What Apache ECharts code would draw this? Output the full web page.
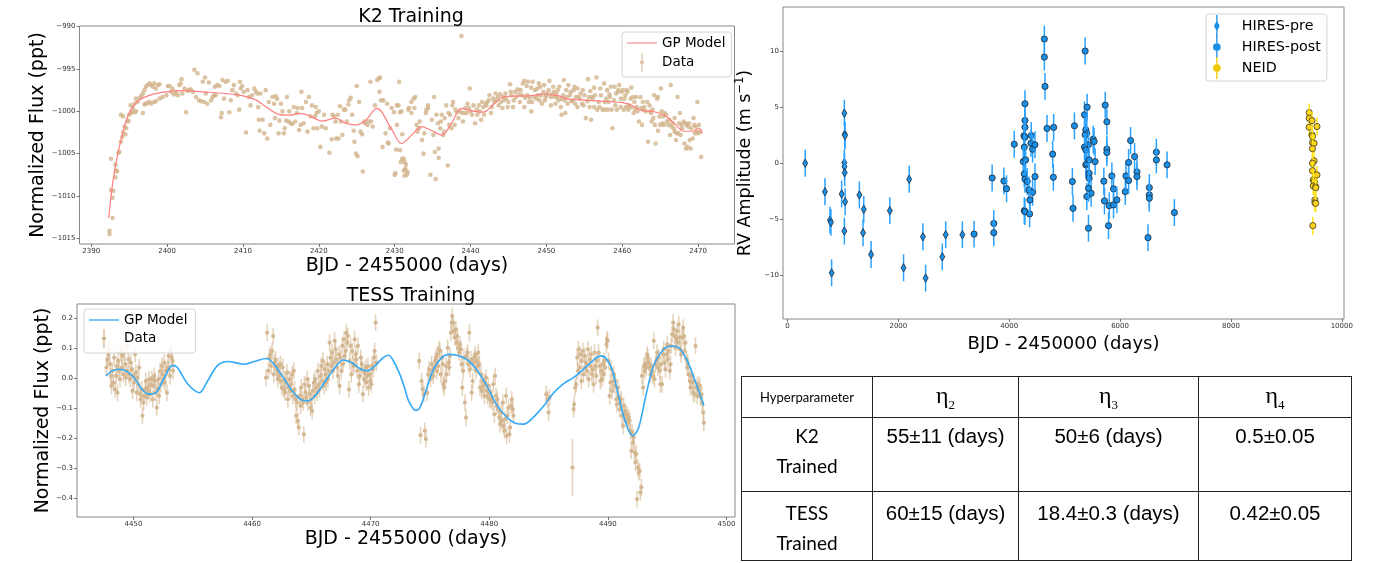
<!DOCTYPE html>
<html>
<head>
<meta charset="utf-8">
<title>GP training on K2 / TESS and RV data</title>
<script src="https://cdn.jsdelivr.net/npm/echarts@6/dist/echarts.min.js"></script>
<style>
  html, body { margin: 0; padding: 0; background: #fff; }
  #main { width: 1375px; height: 563px; }
  /* hyperparameter table, sits under the RV panel */
  #hyper { position: absolute; left: 741px; top: 376px; border-collapse: collapse; table-layout: fixed; }
  #hyper td { border: 1px solid #222; text-align: center; padding: 0; color: #000; }
  #hyper .head td { vertical-align: middle; }
  #hyper .name { font-family: Lato, 'Open Sans', sans-serif; font-size: 13px; }
  #hyper .eta { font-family: 'Liberation Serif', 'DejaVu Serif', serif; font-size: 24px; }
  #hyper .eta sub { font-size: 13px; }
  #hyper .row td { vertical-align: top; line-height: 30px; }
  #hyper .lab { font-family: Lato, 'Open Sans', sans-serif; font-size: 19px; }
  #hyper .val { font-family: 'Liberation Sans', Arial, sans-serif; font-size: 20.5px; }
</style>
</head>
<body>
<div id="main"></div>
<table id="hyper">
  <colgroup><col style="width:131px"><col style="width:146px"><col style="width:180px"><col style="width:153px"></colgroup>
  <tbody id="hyperBody"></tbody>
</table>
<script>
// ---- K2 light curve ----
const k2XTicks = [2390, 2400, 2410, 2420, 2430, 2440, 2450, 2460, 2470];
const k2YTicks = [-1015, -1010, -1005, -1000, -995, -990];
const k2Model = [
  [2392.3,-1012.6],[2392.85,-1008.3],[2393.5,-1005.0],[2394.2,-1002.4],[2394.8,-1000.6],[2395.5,-999.45],
  [2396.35,-998.65],[2398.1,-998.0],[2399.85,-997.7],[2402.05,-997.55],[2404.7,-997.7],[2407.75,-997.9],
  [2409.9,-998.15],[2411.7,-998.65],[2413,-999.45],[2414.75,-1000.35],[2416.05,-1000.45],[2417.4,-1000.25],
  [2418.7,-1000.5],[2420.45,-1001.15],[2422.2,-1000.8],[2423.5,-1001.4],[2424.8,-1001.6],[2426.1,-1001.15],
  [2427.65,-999.65],[2429.65,-1002.2],[2430.9,-1003.8],[2432.25,-1002.8],[2433.55,-1001.8],[2434.9,-1002.3],
  [2436.2,-1002.8],[2437.5,-1001.4],[2438.8,-999.65],[2440.1,-999.95],[2441.65,-1000.1],[2443.2,-999.05],
  [2444.5,-998.25],[2446.25,-998.2],[2448,-998.15],[2449.75,-997.95],[2451.5,-998.15],[2452.85,-998.55],
  [2454.6,-998.65],[2457.2,-998.8],[2459.85,-998.95],[2461.15,-999.25],[2462.45,-999.85],[2464.2,-1000.05],
  [2465.55,-1000.45],[2466.85,-1001.4],[2468.15,-1002.35],[2469.25,-1002.35],[2470.15,-1002.0],[2470.5,-1002.6]
];
const k2Data = [
  [2392.4,-1014.1],[2392.4,-1014.5],[2392.8,-1012.6],[2392.6,-1009.3],[2392.9,-1009.4],[2392.8,-1010.2],[2392.6,-1005.6],
  [2393.2,-1006.3],[2393.3,-1007.0],[2393.4,-1007.1],[2393.2,-1007.8],[2393.6,-1004.9],[2393.7,-1004.8],[2393.9,-1003.6],
  [2394.1,-1003.0],[2394.2,-1002.5],[2393.9,-1000.4],[2394.2,-1000.6],[2394.5,-1002.7],[2394.6,-1002.0],[2394.4,-1001.8],
  [2394.8,-1001.2],[2394.9,-1001.1],[2395.0,-1000.4],[2395.3,-1000.0],[2395.2,-999.3],[2395.5,-999.6],[2395.7,-999.1],
  [2395.3,-1000.2],[2395.9,-998.5],[2396.1,-998.9],[2396.4,-998.4],[2396.6,-998.2],[2396.8,-997.9],[2397.0,-997.5],
  [2397.2,-997.1],[2397.4,-996.9],[2397.7,-996.7],[2397.9,-996.9],[2398.1,-997.1],[2398.3,-996.7],[2398.5,-997.3],
  [2398.8,-996.9],[2399.0,-996.8],[2395.7,-1000.1],[2395.9,-1000.0],[2396.8,-1000.2],[2397.0,-999.2],[2397.2,-999.1],
  [2397.4,-999.0],[2397.7,-998.9],[2397.9,-999.1],[2398.3,-998.9],[2398.5,-998.8],[2399.0,-998.5],[2399.4,-998.3],
  [2399.9,-998.1],[2400.1,-997.0],[2400.3,-997.0],[2400.5,-997.7],[2400.7,-997.3],[2400.9,-998.0],[2401.2,-997.7],
  [2401.4,-998.1],[2401.6,-996.9],[2401.8,-996.7],[2401.9,-996.2],[2402.0,-997.9],[2402.3,-997.3],[2402.5,-1000.1],
  [2402.7,-997.6],[2402.9,-997.5],[2403.1,-997.4],[2403.4,-997.7],[2403.6,-995.1],[2403.8,-998.3],[2404.0,-995.5],
  [2404.2,-998.7],[2404.5,-998.8],[2404.7,-996.5],[2404.9,-998.9],[2405.0,-996.0],[2405.1,-997.9],[2405.3,-999.1],
  [2405.5,-996.6],[2405.8,-998.7],[2406.0,-998.3],[2406.2,-998.1],[2406.3,-997.1],[2406.4,-998.1],[2406.6,-996.9],
  [2406.9,-997.0],[2407.1,-1000.7],[2407.2,-1000.2],[2407.3,-996.3],[2407.5,-998.5],[2407.7,-996.5],[2408.0,-996.4],
  [2408.2,-1000.1],[2408.4,-998.7],[2408.6,-997.5],[2408.8,-996.9],[2409.1,-997.9],[2409.3,-998.1],[2409.5,-999.8],
  [2409.6,-996.5],[2409.7,-997.3],[2409.9,-997.0],[2410.1,-997.7],[2410.4,-1002.5],[2410.6,-997.5],[2410.8,-998.3],
  [2411.0,-999.3],[2411.2,-998.1],[2411.5,-997.3],[2411.7,-997.7],[2411.9,-997.9],[2412.0,-999.5],[2412.1,-1001.0],
  [2412.2,-1002.3],[2412.3,-997.9],[2412.6,-1001.0],[2412.8,-1002.6],[2413.0,-997.5],[2413.2,-1003.2],[2413.4,-998.9],
  [2413.6,-1001.6],[2413.9,-998.3],[2414.1,-999.1],[2414.2,-1000.8],[2414.3,-998.2],[2414.5,-998.5],[2414.7,-1002.6],
  [2414.8,-1001.1],[2415.0,-999.1],[2415.2,-1000.0],[2415.4,-1002.6],[2415.5,-1002.0],[2415.7,-1001.1],[2415.8,-998.3],
  [2416.0,-1001.2],[2416.1,-1000.0],[2416.3,-1001.4],[2416.5,-1001.5],[2416.7,-999.5],[2416.9,-1001.2],[2417.1,-1000.2],
  [2417.2,-999.6],[2417.4,-1002.2],[2417.6,-1001.6],[2417.7,-997.7],[2417.8,-999.6],[2418.0,-1001.4],[2418.3,-998.9],
  [2418.5,-1002.4],[2418.7,-998.3],[2418.9,-1000.6],[2419.1,-999.3],[2419.3,-1002.0],[2419.5,-1000.6],[2419.6,-999.5],
  [2419.7,-1000.2],[2419.8,-1002.0],[2420.0,-1000.0],[2420.2,-1004.2],[2420.4,-1001.8],[2420.7,-1000.4],[2420.9,-1002.0],
  [2421.4,-1004.9],[2421.7,-1003.3],[2421.8,-1000.4],[2422.0,-1000.6],[2422.2,-1001.2],[2422.3,-1003.2],[2422.5,-1000.4],
  [2422.6,-1003.2],[2422.8,-999.4],[2422.9,-1001.2],[2423.1,-1002.8],[2423.3,-999.8],[2423.5,-999.8],[2423.7,-1001.2],
  [2423.9,-999.2],[2424.0,-998.7],[2424.2,-998.4],[2424.4,-1000.4],[2424.6,-1002.3],[2424.7,-1003.6],[2424.9,-1005.0],
  [2425.0,-997.0],[2425.1,-1005.3],[2425.3,-998.9],[2425.5,-1002.4],[2425.7,-1002.7],[2425.8,-1007.1],[2426.0,-1001.2],
  [2426.1,-1001.4],[2426.4,-1001.6],[2426.6,-1001.2],[2426.8,-996.5],[2426.9,-1001.2],[2427.1,-1001.8],[2427.4,-999.3],
  [2427.7,-996.3],[2427.9,-996.1],[2428.1,-996.0],[2428.0,-997.7],[2428.2,-998.7],[2428.4,-1004.2],[2428.5,-998.7],
  [2428.8,-1002.6],[2429.0,-999.1],[2429.1,-1003.7],[2429.2,-1003.8],[2429.4,-1002.0],[2429.6,-999.6],[2429.9,-1000.1],
  [2430.0,-1007.5],[2430.1,-1007.3],[2430.2,-1004.5],[2430.3,-1001.6],[2430.5,-999.3],[2430.6,-996.5],[2430.7,-1000.1],
  [2430.9,-1000.0],[2431.0,-1002.7],[2431.2,-1005.6],[2431.3,-1006.0],[2431.4,-1006.9],
  [2430.3,-999.3],[2430.7,-1004.6],[2431.0,-1005.6],[2430.8,-1006.0],[2431.2,-1007.0],[2431.4,-1006.8],[2431.6,-1007.5],
  [2431.3,-1007.6],[2431.7,-1007.2],[2431.5,-1006.3],[2431.8,-999.8],[2431.9,-999.6],[2432.2,-1000.2],[2432.2,-998.9],
  [2432.5,-998.5],[2432.7,-998.3],[2432.6,-999.6],[2432.9,-1001.6],[2433.0,-1002.4],[2433.2,-1002.0],[2433.3,-1001.2],
  [2433.6,-1003.4],[2433.8,-1005.0],[2433.9,-1002.6],[2434.1,-1000.2],[2434.2,-999.8],[2434.4,-999.3],[2434.4,-999.6],
  [2434.7,-1007.5],[2434.9,-1001.0],[2435.1,-1002.8],[2435.2,-998.3],[2435.3,-1004.8],[2435.4,-1008.0],[2435.5,-1000.4],
  [2435.7,-1001.4],[2435.8,-1004.4],[2435.8,-1005.5],[2436.0,-1002.0],[2436.1,-1001.2],[2436.2,-1000.4],[2436.4,-1002.8],
  [2436.5,-1002.4],[2436.6,-1000.8],[2436.8,-999.3],[2437.0,-1006.4],[2437.1,-1000.2],[2437.2,-1001.6],[2437.3,-1000.4],
  [2437.5,-1002.0],[2437.6,-999.3],[2437.7,-998.9],[2437.9,-1001.6],[2438.0,-999.8],[2438.2,-1000.1],[2438.4,-1000.8],
  [2438.6,-1000.0],[2438.8,-991.1],[2438.9,-1000.2],[2439.0,-1001.2],[2439.2,-1000.2],[2439.3,-999.6],[2439.5,-1000.2],
  [2439.6,-999.1],[2439.8,-999.6],[2439.9,-997.3],[2440.0,-1000.0],[2440.2,-1000.4],[2440.4,-999.3],[2440.6,-1001.4],
  [2440.8,-999.8],[2440.9,-1000.4],[2441.1,-999.3],[2441.2,-1000.0],[2441.4,-1001.0],[2441.5,-998.9],[2441.7,-999.5],
  [2441.8,-1000.4],[2442.0,-999.1],[2442.1,-999.3],[2442.2,-998.9],[2442.4,-998.7],[2442.5,-998.1],[2442.7,-1000.2],
  [2442.8,-999.5],[2443.0,-998.5],[2443.1,-998.9],[2443.3,-997.9],[2443.4,-998.7],[2443.6,-998.3],[2443.7,-999.3],
  [2443.9,-998.0],[2444.0,-998.9],[2444.2,-999.6],[2444.3,-998.3],[2444.4,-998.7],[2444.6,-997.9],[2444.7,-998.5],
  [2444.9,-999.5],[2445.0,-998.9],[2445.2,-996.8],[2445.3,-997.7],[2445.4,-998.1],[2445.6,-999.5],[2445.7,-998.7],
  [2445.9,-997.7],[2446.0,-998.3],[2446.2,-997.4],[2446.4,-998.0],[2446.5,-998.9],[2446.6,-997.5],[2446.8,-998.1],
  [2446.9,-996.7],[2447.1,-999.5],[2447.1,-996.4],[2447.2,-998.4],[2447.4,-997.0],[2447.5,-998.1],[2447.6,-996.5],
  [2447.7,-998.9],[2447.8,-998.4],[2448.0,-997.2],[2448.0,-1000.0],[2448.1,-998.9],[2448.2,-996.5],[2448.4,-998.3],
  [2448.5,-997.5],[2448.7,-998.5],[2448.8,-997.3],[2448.9,-998.1],[2449.0,-996.7],[2449.1,-998.7],[2449.2,-997.1],
  [2449.3,-998.1],[2449.4,-999.1],[2449.6,-997.7],[2449.7,-996.9],[2449.8,-998.7],[2449.9,-998.3],[2450.0,-998.1],
  [2450.1,-997.9],[2450.3,-997.5],[2450.4,-996.4],[2450.6,-998.3],[2450.6,-999.3],[2450.7,-998.0],[2450.9,-997.1],
  [2451.0,-997.7],[2451.1,-998.3],[2451.2,-999.1],[2451.3,-997.9],[2451.4,-998.3],[2451.5,-997.5],[2451.6,-998.7],
  [2451.7,-997.1],[2451.9,-999.5],[2452.0,-998.5],[2452.0,-1000.4],[2452.2,-998.1],[2452.3,-996.3],[2452.4,-998.7],
  [2452.5,-1000.2],[2452.6,-997.5],[2452.7,-998.3],[2452.8,-999.1],[2452.9,-996.9],[2453.1,-998.1],[2453.2,-997.7],
  [2453.3,-998.8],[2453.5,-998.7],[2453.6,-997.5],[2453.7,-997.1],[2453.8,-999.1],[2453.9,-998.3],[2454.1,-997.3],
  [2454.1,-999.5],[2454.2,-998.3],[2454.4,-998.5],[2454.5,-997.9],[2454.7,-999.1],[2454.8,-997.5],[2454.9,-999.3],
  [2455.0,-998.1],[2455.2,-1000.8],[2455.4,-998.8],[2455.5,-996.2],[2455.6,-998.3],[2455.7,-999.5],[2455.8,-997.6],
  [2455.9,-1001.0],[2456.0,-998.3],[2456.1,-998.5],[2456.3,-999.5],[2456.3,-997.2],[2456.4,-998.1],[2456.6,-996.0],
  [2456.7,-999.8],[2456.9,-998.9],[2457.0,-999.5],[2457.1,-997.3],[2457.2,-998.1],[2457.4,-999.8],[2457.6,-996.7],
  [2457.7,-998.9],[2457.7,-999.8],[2457.9,-998.5],[2458.0,-997.5],[2458.1,-999.8],[2458.2,-998.9],[2458.3,-998.0],
  [2458.4,-998.3],[2458.5,-997.1],[2458.6,-999.8],[2458.7,-1002.0],[2458.9,-998.7],[2459.0,-997.1],[2459.1,-999.3],
  [2459.2,-997.9],[2459.3,-999.8],[2459.4,-997.7],[2459.5,-997.5],[2459.6,-996.9],[2459.8,-999.5],[2459.8,-998.5],
  [2459.9,-997.7],[2460.1,-997.5],[2460.2,-999.8],[2460.3,-998.5],[2460.4,-998.1],[2460.5,-999.5],[2460.6,-997.5],
  [2460.7,-997.7],[2460.8,-999.8],[2460.9,-999.3],[2461.1,-998.5],[2461.2,-999.5],[2461.2,-997.2],[2461.4,-998.3],
  [2461.5,-1000.2],[2461.6,-998.9],[2461.7,-999.8],[2461.8,-998.3],[2461.9,-999.5],[2462.0,-1000.0],[2462.2,-1001.2],
  [2462.4,-998.3],[2462.5,-999.6],[2462.6,-1001.6],[2462.7,-998.9],[2462.8,-999.8],[2462.9,-999.5],[2463.1,-1000.0],
  [2463.3,-998.9],[2463.4,-1003.6],[2463.6,-999.3],[2463.7,-1000.0],[2463.8,-1000.2],[2463.9,-1001.2],[2464.0,-999.8],
  [2464.1,-1000.8],[2464.2,-998.1],[2464.3,-1001.6],[2464.4,-1003.8],[2464.6,-998.5],[2464.7,-1002.3],[2464.7,-998.3],
  [2464.9,-1000.6],[2465.0,-1001.6],[2465.1,-997.3],[2465.2,-1000.0],[2465.3,-1001.4],[2465.4,-1000.6],[2465.5,-1001.6],
  [2465.6,-1000.2],[2465.8,-1000.4],[2465.9,-1001.2],[2466.1,-1001.6],[2466.2,-1001.0],[2466.3,-1002.8],[2466.4,-996.9],
  [2466.5,-1001.8],[2466.6,-1001.4],[2466.8,-1002.0],[2466.9,-1002.4],[2466.9,-1000.8],[2467.1,-1003.4],[2467.2,-1002.6],
  [2467.3,-998.3],[2467.4,-1002.6],[2467.5,-1001.4],[2467.6,-1000.2],[2467.7,-1002.8],[2467.8,-1001.6],[2467.9,-1002.0],
  [2468.1,-1001.2],[2468.2,-1003.8],[2468.3,-1001.4],[2468.4,-1004.4],[2468.5,-1001.6],[2468.6,-1004.2],[2468.7,-1001.8],
  [2468.8,-1001.4],[2468.9,-1003.4],[2469.0,-1004.4],[2469.1,-1002.0],[2469.3,-1003.2],[2469.4,-1000.8],[2469.5,-1001.6],
  [2469.6,-1002.6],[2469.7,-1001.8],[2469.8,-1002.4],[2469.9,-998.9],[2470.0,-1002.6],[2470.1,-1001.6],[2470.3,-1002.4],
  [2470.4,-1005.4]
];

// ---- TESS light curve ----
const tessXTicks = [4450, 4460, 4470, 4480, 4490, 4500];
const tessYTicks = [-0.4, -0.3, -0.2, -0.1, 0, 0.1, 0.2];
const tessErr = 0.028;
const tessModel = [
  [4447.66,0.009],[4448.65,0.031],[4449.2,0.029],[4450.06,0.003],[4450.6,-0.03],[4451.3,-0.052],[4451.9,-0.047],
  [4452.6,0.003],[4453.3,0.044],[4453.7,0.037],[4454.6,-0.019],[4455.55,-0.047],[4456.25,-0.008],[4457.1,0.044],
  [4457.95,0.057],[4459.35,0.048],[4460.35,0.059],[4461.2,0.067],[4461.75,0.053],[4462.45,0.014],[4463.3,-0.036],
  [4464.15,-0.071],[4464.7,-0.074],[4465.3,-0.058],[4466.1,-0.013],[4467,0.037],[4467.7,0.062],[4468.4,0.053],
  [4469.2,0.031],[4469.7,0.026],[4470.35,0.042],[4471.05,0.07],[4471.5,0.078],[4472.0,0.053],[4472.46,0.014],
  [4472.9,-0.036],[4473.2,-0.074],[4473.8,-0.106],[4474.15,-0.097],[4474.7,-0.036],[4475.3,0.031],[4476.0,0.07],
  [4476.55,0.081],[4477.25,0.078],[4478.1,0.064],[4478.9,0.031],[4479.8,-0.024],[4480.6,-0.086],[4481.5,-0.13],
  [4482.2,-0.149],[4482.9,-0.152],[4483.7,-0.13],[4484.6,-0.091],[4485.4,-0.049],[4486.3,-0.016],[4487.1,0.003],
  [4487.8,0.026],[4488.65,0.057],[4489.4,0.076],[4489.8,0.07],[4490.35,0.031],[4490.9,-0.058],[4491.5,-0.147],
  [4492.1,-0.191],[4492.6,-0.163],[4493.2,-0.058],[4493.85,0.042],[4494.7,0.098],[4495.4,0.109],[4496.0,0.103],
  [4496.7,0.059],[4497.4,-0.013],[4498.1,-0.091]
];
const tessData = [
  [4447.72,0.037],[4447.80,0.064],[4447.89,0.081],[4447.94,0.098],[4448.03,0.048],[4448.08,0.009],[4448.14,-0.024],
  [4448.23,0.026],[4448.31,-0.013],[4448.37,0.070],[4448.45,-0.036],[4448.54,0.009],[4448.59,0.042],[4448.65,-0.047],
  [4448.73,0.059],[4448.79,0.026],[4448.87,-0.002],[4448.93,0.087],[4449.01,0.037],[4449.07,0.076],[4449.16,0.014],
  [4449.21,0.087],[4449.30,0.048],[4449.35,0.003],[4449.44,0.026],[4449.49,0.109],[4449.58,0.064],[4449.63,0.014],
  [4449.72,-0.002],[4449.77,0.053],[4449.86,0.031],[4449.92,-0.041],[4450.00,0.009],[4450.06,-0.013],[4450.14,0.081],
  [4450.20,0.020],[4450.28,-0.047],[4450.34,0.003],[4450.42,-0.019],[4450.48,0.037],[4450.56,-0.052],[4450.62,-0.069],
  [4450.70,-0.036],[4450.76,-0.124],[4450.85,-0.080],[4450.90,-0.058],[4450.99,-0.036],[4451.04,-0.008],[4451.13,-0.063],
  [4451.18,-0.030],[4451.27,-0.041],[4451.32,-0.002],[4451.41,-0.052],[4451.46,-0.019],[4451.55,-0.002],[4451.63,-0.069],
  [4451.69,-0.024],[4451.75,0.009],[4451.83,-0.008],[4451.89,-0.047],[4451.97,-0.097],[4452.03,-0.036],[4452.11,-0.002],
  [4452.17,-0.058],[4452.25,0.026],[4452.31,-0.019],[4452.39,0.042],[4452.45,0.014],[4452.54,-0.002],[4452.59,0.053],
  [4452.65,-0.013],[4452.73,0.026],[4452.82,-0.047],[4452.87,0.037],[4452.96,0.076],[4453.01,0.031],[4453.10,0.009],
  [4453.15,0.092],[4453.21,0.070],[4453.30,0.059],[4453.35,0.026],
  [4461.18,0.003],[4461.27,0.153],[4461.38,0.026],[4461.46,0.070],[4461.55,0.081],[4461.61,0.042],[4461.69,0.092],
  [4461.78,0.142],[4461.83,0.014],[4461.89,0.053],[4461.97,0.064],[4462.06,0.037],[4462.11,0.026],[4462.17,-0.002],
  [4462.23,0.042],[4462.31,0.009],[4462.40,0.048],[4462.45,-0.008],[4462.51,-0.030],[4462.59,0.037],[4462.68,-0.036],
  [4462.73,-0.002],[4462.79,-0.047],[4462.87,-0.013],[4462.96,0.020],[4463.02,-0.069],[4463.07,-0.030],[4463.16,-0.002],
  [4463.24,-0.041],[4463.30,-0.019],[4463.38,0.014],[4463.44,-0.058],[4463.52,0.026],[4463.58,-0.036],[4463.66,-0.069],
  [4463.72,-0.124],[4463.80,-0.080],[4463.86,-0.141],[4463.94,-0.163],[4464.03,-0.058],[4464.09,-0.091],[4464.14,-0.030],
  [4464.23,-0.069],[4464.31,-0.080],[4464.37,-0.186],[4464.42,-0.019],[4464.51,-0.047],[4464.56,-0.063],[4464.65,-0.002],
  [4464.70,-0.080],[4464.79,-0.024],[4464.87,-0.052],[4464.93,-0.097],[4464.99,-0.069],[4465.07,-0.108],[4465.13,-0.041],
  [4465.21,-0.013],[4465.27,-0.058],[4465.32,-0.002],[4465.41,-0.030],[4465.49,-0.047],[4465.55,0.026],[4465.63,-0.019],
  [4465.69,-0.036],[4465.78,0.009],[4465.83,0.042],[4465.92,-0.008],[4465.97,0.059],[4466.06,-0.024],[4466.11,0.031],
  [4466.20,0.014],[4466.25,-0.013],[4466.34,0.048],[4466.40,-0.002],[4466.48,0.026],[4466.54,0.120],[4466.62,0.070],
  [4466.68,0.042],[4466.76,0.087],[4466.82,0.026],[4466.90,0.053],[4466.96,0.126],[4467.04,0.098],[4467.10,0.064],
  [4467.18,0.037],[4467.24,0.009],[4467.32,0.081],[4467.38,-0.024],[4467.46,0.070],[4467.52,0.026],[4467.61,0.109],
  [4467.66,0.048],[4467.75,0.131],[4467.80,0.076],[4467.89,0.092],[4467.94,0.153],[4468.03,0.120],[4468.08,0.142],
  [4468.17,-0.036],[4468.23,0.059],[4468.31,0.109],[4468.37,0.014],[4468.45,0.092],[4468.51,0.048],[4468.59,0.042],
  [4468.65,0.131],[4468.73,0.081],[4468.79,0.064],[4468.87,0.026],[4468.93,0.109],[4469.01,-0.019],[4469.07,0.009],
  [4469.16,0.070],[4469.21,0.031],[4469.27,0.048],[4469.35,-0.052],[4469.44,-0.002],[4469.49,0.020],[4469.58,0.037],
  [4469.63,-0.013],[4469.72,0.009],[4469.77,0.042],[4469.83,-0.030],[4469.92,0.014],[4470.00,-0.008],[4470.06,-0.019],
  [4470.11,0.042],[4470.20,0.031],[4470.28,0.070],[4470.34,0.092],[4470.42,0.187],[4470.48,0.053],
  [4474.09,0.059],[4474.21,-0.189],[4474.29,-0.008],[4474.38,-0.036],[4474.49,-0.052],[4474.57,-0.174],[4474.66,-0.202],
  [4474.77,-0.047],[4474.85,0.014],[4474.94,0.031],[4475.05,-0.002],[4475.14,0.048],[4475.22,0.026],[4475.28,0.009],
  [4475.36,0.037],[4475.45,0.059],[4475.50,0.070],[4475.56,0.026],[4475.62,0.081],[4475.70,0.042],[4475.78,0.098],
  [4475.84,0.092],[4475.92,0.014],[4476.01,0.070],[4476.07,0.048],[4476.12,-0.019],[4476.21,-0.030],[4476.26,-0.008],
  [4476.35,0.042],[4476.40,0.014],[4476.49,0.103],[4476.57,0.053],[4476.63,0.037],[4476.69,0.076],[4476.77,0.153],
  [4476.83,0.187],[4476.88,0.209],[4476.97,0.187],[4477.02,0.159],[4477.11,0.137],[4477.19,0.164],[4477.25,0.120],
  [4477.31,0.142],[4477.39,0.103],[4477.47,0.087],[4477.53,0.114],[4477.62,0.098],[4477.67,0.048],[4477.73,-0.030],
  [4477.81,0.026],[4477.87,0.070],[4477.95,-0.080],[4478.04,-0.130],[4478.09,0.076],[4478.18,0.087],[4478.23,0.048],
  [4478.32,0.153],[4478.38,0.031],[4478.46,0.064],[4478.52,-0.047],[4478.60,-0.008],[4478.66,0.053],[4478.74,0.070],
  [4478.83,0.081],[4478.88,0.026],[4478.94,0.059],[4479.02,0.042],[4479.08,0.087],[4479.16,0.048],[4479.22,-0.030],
  [4479.31,0.014],[4479.36,-0.041],[4479.45,-0.008],[4479.50,-0.024],[4479.59,-0.058],[4479.64,-0.013],[4479.73,0.003],
  [4479.78,-0.041],[4479.84,-0.058],[4479.92,-0.024],[4480.01,-0.069],[4480.07,-0.047],[4480.15,-0.074],[4480.21,-0.063],
  [4480.29,-0.080],[4480.35,-0.019],[4480.43,-0.119],[4480.49,0.009],[4480.57,-0.058],[4480.63,-0.091],[4480.69,-0.069],
  [4480.77,-0.102],[4480.85,-0.130],[4480.91,-0.152],[4480.99,-0.113],[4481.05,-0.141],[4481.14,-0.080],[4481.19,-0.158],
  [4481.28,-0.174],[4481.33,-0.136],[4481.42,-0.058],[4481.47,-0.191],[4481.53,-0.124],[4481.62,-0.097],[4481.70,-0.186],
  [4481.76,-0.163],[4481.84,-0.091],[4481.90,-0.069],[4481.98,-0.102],[4482.04,-0.124],
  [4484.80,-0.052],[4484.91,-0.069],[4485.00,-0.113],[4485.08,-0.063],
  [4487.02,-0.297,0.095],[4487.11,-0.102],[4487.16,-0.086],[4487.25,-0.030],[4487.33,-0.019],[4487.42,0.070],
  [4487.47,0.026],[4487.53,0.098],[4487.62,0.037],[4487.67,0.081],[4487.76,-0.008],[4487.81,0.059],[4487.90,0.092],
  [4487.95,0.014],[4488.04,0.076],[4488.09,0.037],[4488.18,0.053],[4488.24,0.026],[4488.32,0.098],[4488.38,-0.002],
  [4488.46,0.064],[4488.52,0.042],[4488.60,0.081],[4488.66,0.014],[4488.74,0.031],[4488.80,-0.019],[4488.88,0.087],
  [4488.94,0.042],[4489.02,0.009],[4489.08,0.059],[4489.14,0.170],[4489.22,0.087],[4489.31,0.042],[4489.36,-0.008],
  [4489.45,0.026],[4489.50,-0.002],[4489.59,0.048],[4489.64,0.014],[4489.70,0.059],[4489.78,0.037],[4489.87,0.114],
  [4489.93,0.131],[4489.98,0.126],[4490.07,0.059],[4490.15,-0.058],[4490.21,-0.013],[4490.29,0.031],[4490.35,-0.041],
  [4490.43,-0.008],[4490.49,0.014],[4490.57,-0.024],[4490.63,-0.008],[4490.71,-0.069],[4490.77,-0.086],[4490.86,-0.030],
  [4490.91,-0.063],[4491.00,-0.102],[4491.05,-0.080],[4491.11,-0.069],[4491.19,-0.124],[4491.28,-0.158],[4491.33,-0.091],
  [4491.42,-0.119],[4491.47,-0.108],[4491.56,-0.136],[4491.62,-0.119],[4491.70,-0.147],[4491.76,-0.130],[4491.84,-0.141],
  [4491.90,-0.174],[4491.98,-0.241],[4492.04,-0.180],[4492.12,-0.213],[4492.18,-0.197],[4492.26,-0.247],[4492.32,-0.280],
  [4492.40,-0.252],[4492.46,-0.402],[4492.52,-0.297],[4492.60,-0.313],[4492.69,-0.308],[4492.74,-0.380],[4492.83,-0.363],
  [4492.88,0.009],[4492.97,-0.030],[4493.02,0.042],[4493.11,0.026],[4493.16,0.048],[4493.25,0.037],[4493.31,0.081],
  [4493.36,0.070],[4493.45,0.053],[4493.53,0.037],[4493.59,0.014],[4493.64,0.042],[4493.73,0.026],[4493.81,0.009],
  [4493.87,0.126],[4493.93,-0.002],[4494.01,0.048],[4494.10,0.059],[4494.15,0.087],[4494.21,0.037],[4494.29,0.070],
  [4494.38,0.026],[4494.43,-0.019],[4494.49,0.048],[4494.57,-0.019],[4494.66,0.081],[4494.71,0.098],[4494.77,0.053],
  [4494.86,0.031],[4494.94,0.081],[4495.00,0.114],[4495.05,0.064],[4495.14,0.092],[4495.22,0.026],[4495.28,0.048],
  [4495.33,0.109],[4495.42,0.148],[4495.50,0.187],[4495.56,0.164],[4495.62,0.142],[4495.70,0.103],[4495.78,0.131],
  [4495.84,0.159],[4495.90,0.120],[4495.98,0.181],[4496.07,0.137],[4496.12,0.098],[4496.18,0.081],[4496.26,0.137],
  [4496.35,0.170],[4496.40,0.142],[4496.46,0.092],[4496.54,0.120],[4496.63,0.064],[4496.69,0.037],[4496.74,0.053],
  [4496.83,0.014],[4496.91,-0.008],[4496.97,-0.030],[4497.02,0.009],[4497.11,-0.013],[4497.19,-0.047],[4497.25,-0.008],
  [4497.31,-0.052],[4497.39,0.109],[4497.47,-0.030],[4497.53,-0.058],[4497.59,-0.019],[4497.67,-0.036],[4497.76,-0.024],
  [4497.81,-0.063],[4497.90,-0.052],[4497.95,-0.080],[4498.04,-0.113],[4498.09,-0.147]
];

// ---- radial velocities: [BJD - 2450000, RV (m/s)] ----
const rvXTicks = [0, 2000, 4000, 6000, 8000, 10000];
const rvYTicks = [-10, -5, 0, 5, 10];
const hiresErr = 1.2;
const neidErr = 0.8;
const rvPre = [
  [320,0.0],[676,-2.54],[766,-5.07],[784,-5.28],[796,-9.78],[977,-2.74],[1026,4.47],[1032,2.59],[1038,2.47],
  [1026,0.06],[1028,-0.30],[1032,-0.84],[1040,-3.43],[1026,-6.05],[1297,-2.83],[1376,-4.11],[1363,-6.2],[1508,-8.14],
  [1846,-4.23],[2094,-9.33],[2196,-1.43],[2443,-6.56],[2492,-10.25],[2793,-8.35],[2854,-6.38],[3155,-6.38]
];
const rvPost = [
  [3366,-6.32],[3692,-1.31],[3722,-5.37],[3722,-6.2],[3904,-1.58],[3952,-2.27],[4091,1.70],
  [4284,5.31],[4284,3.82],[4284,3.22],[4266,2.45],[4284,2.33],[4272,1.44],[4253,0.15],[4296,0.30],[4272,-0.95],
  [4284,-1.42],[4326,-1.63],[4272,-4.23],[4284,-4.32],[4368,-4.52],[4356,-2.38],[4422,-2.59],[4374,-3.27],[4398,2.48],
  [4392,1.79],[4422,1.26],[4465,1.65],[4465,-1.19],[4634,11.09],[4634,9.48],[4646,6.86],[4682,3.11],[4802,3.2],
  [4784,0.81],[4796,-1.25],[5140,-1.63],[5152,-4.02],[5177,3.34],[5358,4.33],[5370,10.02],[5406,5.01],[5382,2.99],
  [5400,2.69],[5370,2.54],[5430,1.65],[5358,1.44],[5382,1.20],[5382,-0.14],[5400,-0.05],[5442,0.30],[5442,-0.89],
  [5442,-1.34],[5478,-2.68],[5400,-2.97],[5430,-2.23],[5514,2.15],[5532,1.94],[5550,0.15],[5430,-5.8],[5732,5.19],
  [5762,3.70],[5762,1.26],[5762,0.96],[5707,-1.60],[5719,-3.36],[5804,-3.78],[5852,-1.13],[5882,-2.29],[5882,-3.72],
  [5943,-3.27],[5792,-5.57],[6094,-2.53],[6106,-1.13],[6154,-1.54],[6154,0.07],[6190,2.03],[6262,0.60],[6305,-0.77],
  [6305,-1.19],[6528,-2.17],[6528,-2.82],[6528,-3.12],[6504,-6.64],[6655,0.99],[6655,0.30],[6848,-0.14],[6980,-4.40]
];
const rvNeid = [
  [9412,4.53],[9412,4.02],[9412,3.22],[9463,3.81],[9552,3.28],[9463,2.53],[9471,2.38],[9471,1.85],[9500,1.79],
  [9471,1.31],[9500,0.21],[9471,0.0],[9471,-0.66],[9552,-1.04],[9485,-1.49],[9500,-1.64],[9485,-2.03],[9530,-2.09],
  [9530,-2.18],[9515,-3.28],[9515,-3.52],[9530,-3.58],[9478,-5.57]
];

// ---- hyperparameter table ----
const hyperCols = ['2', '3', '4'];
const hyperRows = [
  ['K2', 'Trained', '55±11 (days)', '50±6 (days)', '0.5±0.05'],
  ['TESS', 'Trained', '60±15 (days)', '18.4±0.3 (days)', '0.42±0.05']
];

const FONT = "'DejaVu Sans', sans-serif";
const TAN = '#d2b48c';
const LINE_ICON = 'path://M0,0h30v1.3h-30z';
const ERRBAR_ICON = 'path://M4.35,0h1.3v20h-1.3z M7.2,10a2.2,2.2 0 1,1 -4.4,0a2.2,2.2 0 1,1 4.4,0z';
const DIAMOND_ICON = 'path://M4.4,0h1.2v20h-1.2z M5,5L7.6,10L5,15L2.4,10z';
const CIRCLE_ICON = 'path://M4.4,0h1.2v20h-1.2z M8.5,10a3.5,3.5 0 1,1 -7,0a3.5,3.5 0 1,1 7,0z';

const minus = s => String(s).replace('-', '\u2212');

function makeAxis(gridIndex, min, max, ticks, name, nameGap, fmt, nameStyle) {
  return {
    type: 'value', gridIndex, min, max, name,
    nameLocation: 'middle', nameGap,
    nameTextStyle: nameStyle || { fontFamily: FONT, fontSize: 19, color: '#000' },
    axisLine: { show: false, onZero: false },
    splitLine: { show: false },
    axisTick: { customValues: ticks, length: 3, lineStyle: { color: '#555', width: 0.8 } },
    axisLabel: { customValues: ticks, fontSize: 7, fontFamily: FONT, color: '#333', margin: 4,
      formatter: v => minus(fmt ? fmt(v) : v) }
  };
}

// vertical error bar + marker, drawn through the axis scales
function errorBars(fill, barColor, marker, size, edge) {
  return function (params, api) {
    const x = api.value(0), y = api.value(1), e = api.value(2);
    const hi = api.coord([x, y + e]);
    const lo = api.coord([x, y - e]);
    const c = api.coord([x, y]);
    const kids = [{
      type: 'line',
      shape: { x1: hi[0], y1: hi[1], x2: lo[0], y2: lo[1] },
      style: { stroke: barColor, lineWidth: 1.5 }
    }];
    if (marker === 'diamond') {
      kids.push({ type: 'polygon',
        shape: { points: [[c[0], c[1] - size], [c[0] + size * 0.6, c[1]], [c[0], c[1] + size], [c[0] - size * 0.6, c[1]]] },
        style: { fill, stroke: edge, lineWidth: 0.8 } });
    } else {
      kids.push({ type: 'circle', shape: { cx: c[0], cy: c[1], r: size },
        style: { fill, stroke: edge || null, lineWidth: edge ? 0.8 : 0 } });
    }
    return { type: 'group', children: kids };
  };
}

const withErr = (arr, err) => arr.map(p => [p[0], p[1], p[2] != null ? p[2] : err]);

const legendBox = {
  orient: 'vertical', selectedMode: false,
  backgroundColor: 'rgba(255,255,255,0.85)', borderColor: '#d4d4d4', borderWidth: 1, borderRadius: 3,
  formatter: n => n.split('#')[0]
};

const chart = echarts.init(document.getElementById('main'), null, { renderer: 'canvas' });
chart.setOption({
  animation: false,
  textStyle: { fontFamily: FONT },
  title: [
    { text: 'K2 Training', left: 406, top: 3, textAlign: 'center',
      textStyle: { fontFamily: FONT, fontSize: 19, fontWeight: 'normal', color: '#000' } },
    { text: 'TESS Training', left: 406, top: 282, textAlign: 'center',
      textStyle: { fontFamily: FONT, fontSize: 19, fontWeight: 'normal', color: '#000' } }
  ],
  legend: [
    Object.assign({}, legendBox, {
      left: 622, top: 32, padding: [4, 6, 5, 5], itemWidth: 30, itemHeight: 19, itemGap: 3,
      textStyle: { fontFamily: FONT, fontSize: 13.5, color: '#000' },
      data: [{ name: 'GP Model', icon: LINE_ICON }, { name: 'Data', icon: ERRBAR_ICON }]
    }),
    Object.assign({}, legendBox, {
      left: 84, top: 309, padding: [4, 8, 5, 5], itemWidth: 30, itemHeight: 19, itemGap: 2,
      textStyle: { fontFamily: FONT, fontSize: 13.5, color: '#000' },
      data: [{ name: 'GP Model#tess', icon: LINE_ICON }, { name: 'Data#tess', icon: ERRBAR_ICON }]
    }),
    Object.assign({}, legendBox, {
      left: 1206, top: 14, padding: [1, 6, 2, 7], itemWidth: 24, itemHeight: 22, itemGap: -1,
      textStyle: { fontFamily: FONT, fontSize: 14.3, color: '#000', padding: [0, 0, 0, 8] },
      data: [{ name: 'HIRES-pre', icon: DIAMOND_ICON }, { name: 'HIRES-post', icon: CIRCLE_ICON },
             { name: 'NEID', icon: CIRCLE_ICON }]
    })
  ],
  grid: [
    { left: 79.5, top: 26, width: 655, height: 218, show: true, borderColor: '#888', borderWidth: 1 },
    { left: 77, top: 304, width: 658, height: 213, show: true, borderColor: '#888', borderWidth: 1 },
    { left: 783, top: 7, width: 561, height: 312, show: true, borderColor: '#888', borderWidth: 1 }
  ],
  xAxis: [
    makeAxis(0, 2388.45, 2474.8, k2XTicks, 'BJD - 2455000 (days)', 13),
    makeAxis(1, 4445.24, 4500.72, tessXTicks, 'BJD - 2455000 (days)', 13),
    makeAxis(2, -81, 10040, rvXTicks, 'BJD - 2450000 (days)', 13, null,
      { fontFamily: FONT, fontSize: 18, color: '#000' })
  ],
  yAxis: [
    makeAxis(0, -1015.67, -989.92, k2YTicks, 'Normalized Flux (ppt)', 29),
    makeAxis(1, -0.462, 0.249, tessYTicks, 'Normalized Flux (ppt)', 24, v => v.toFixed(1)),
    makeAxis(2, -13.9, 13.95, rvYTicks, '{t|RV Amplitude (m s}{s|\u22121}{t|)}', 27, null, {
      rich: {
        t: { fontFamily: FONT, fontSize: 17.5, color: '#000', lineHeight: 22 },
        s: { fontFamily: FONT, fontSize: 11.5, color: '#000', verticalAlign: 'top' }
      }
    })
  ],
  series: [
    { name: 'Data', type: 'scatter', xAxisIndex: 0, yAxisIndex: 0, data: k2Data,
      symbolSize: 4.6, itemStyle: { color: TAN }, z: 2 },
    { name: 'GP Model', type: 'line', xAxisIndex: 0, yAxisIndex: 0, data: k2Model,
      smooth: 0.35, symbol: 'none', lineStyle: { color: '#ff8080', width: 1.2 }, itemStyle: { color: '#ff9a9a' }, z: 3 },
    { name: 'Data#tess', type: 'custom', xAxisIndex: 1, yAxisIndex: 1, data: withErr(tessData, tessErr),
      encode: { x: 0, y: 1 }, itemStyle: { color: TAN },
      renderItem: errorBars('rgba(210,180,140,0.9)', 'rgba(210,180,140,0.6)', 'circle', 2.1), z: 2 },
    { name: 'GP Model#tess', type: 'line', xAxisIndex: 1, yAxisIndex: 1, data: tessModel,
      smooth: 0.35, symbol: 'none', lineStyle: { color: '#33a9f7', width: 1.6 }, itemStyle: { color: '#33a9f7' }, z: 3 },
    { name: 'HIRES-pre', type: 'custom', xAxisIndex: 2, yAxisIndex: 2, data: withErr(rvPre, hiresErr),
      encode: { x: 0, y: 1 }, itemStyle: { color: '#1a8fe6' },
      renderItem: errorBars('#1a8fe6', '#2ba2ff', 'diamond', 4.2, '#1c2733'), z: 2 },
    { name: 'HIRES-post', type: 'custom', xAxisIndex: 2, yAxisIndex: 2, data: withErr(rvPost, hiresErr),
      encode: { x: 0, y: 1 }, itemStyle: { color: '#1a8fe6' },
      renderItem: errorBars('#1a8fe6', '#2ba2ff', 'circle', 3.1, '#1c2733'), z: 2 },
    { name: 'NEID', type: 'custom', xAxisIndex: 2, yAxisIndex: 2, data: withErr(rvNeid, neidErr),
      encode: { x: 0, y: 1 }, itemStyle: { color: '#f2c800' },
      renderItem: errorBars('#ffd21a', '#ffe31a', 'circle', 3.1, '#3a3320'), z: 2 }
  ]
});

// build the table body from the arrays
const body = document.getElementById('hyperBody');
let html = '<tr class="head" style="height:41px"><td class="name">Hyperparameter</td>';
hyperCols.forEach(k => { html += '<td class="eta">\u03b7<sub>' + k + '</sub></td>'; });
html += '</tr>';
hyperRows.forEach((r, i) => {
  const h = i === 0 ? 74 : 69, pad = i === 0 ? 3 : 6;
  html += '<tr class="row" style="height:' + h + 'px">';
  html += '<td class="lab"><div style="margin-top:' + pad + 'px">' + r[0] + '<br>' + r[1] + '</div></td>';
  for (let j = 2; j < r.length; j++) {
    html += '<td class="val"><div style="margin-top:' + pad + 'px">' + r[j] + '</div></td>';
  }
  html += '</tr>';
});
body.innerHTML = html;
</script>
</body>
</html>
